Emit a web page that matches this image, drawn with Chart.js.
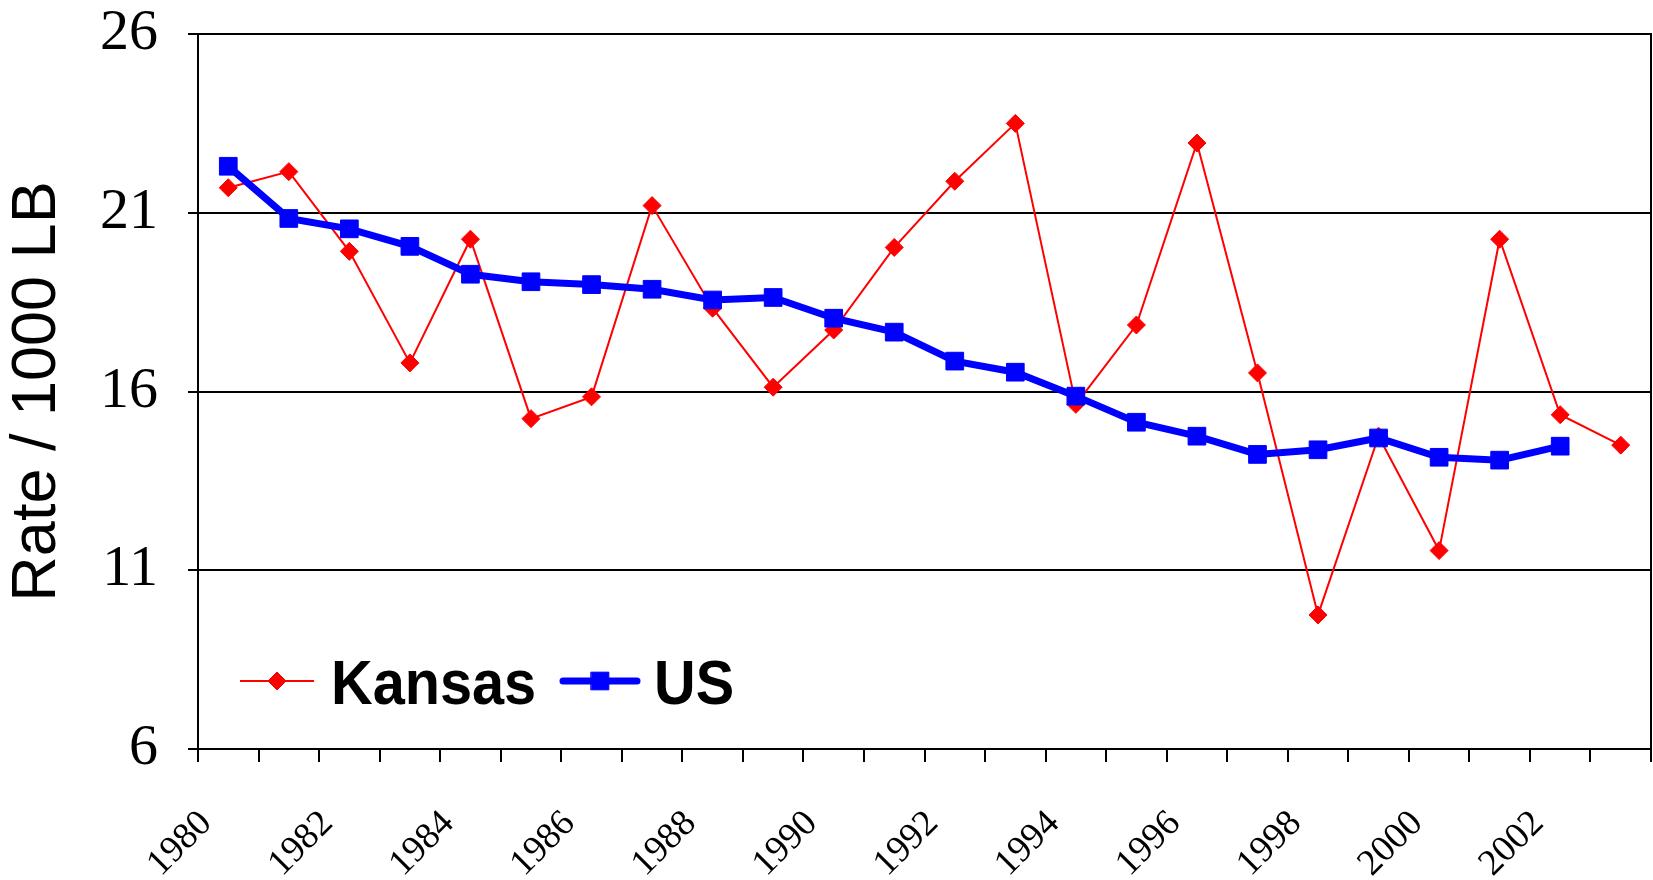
<!DOCTYPE html>
<html>
<head>
<meta charset="utf-8">
<script src="https://cdn.jsdelivr.net/npm/chart.js@4.4.1/dist/chart.umd.min.js"></script>
<style>
  html, body { margin: 0; padding: 0; background: #fff; }
  #wrap { width: 1653px; height: 880px; }
</style>
</head>
<body>
<div id="wrap"><canvas id="chart"></canvas></div>
<script>
const years = ['1980', '1981', '1982', '1983', '1984', '1985', '1986', '1987', '1988', '1989', '1990', '1991',
               '1992', '1993', '1994', '1995', '1996', '1997', '1998', '1999', '2000', '2001', '2002', '2003'];
const kansas = [21.7, 22.15, 19.92, 16.8, 20.26, 15.24, 15.85, 21.2, 18.33, 16.12, 17.72, 20.03,
                21.88, 23.5, 15.64, 17.86, 22.95, 16.52, 9.75, 14.75, 11.55, 20.26, 15.35, 14.5];
const us = [22.3, 20.84, 20.55, 20.06, 19.28, 19.07, 18.99, 18.86, 18.56, 18.63, 18.05, 17.66,
            16.85, 16.54, 15.87, 15.14, 14.75, 14.24, 14.37, 14.7, 14.16, 14.08, 14.47, null];
const yTicks = [6, 11, 16, 21, 26];

// draws the box round the plot area
const framePlugin = {
    id: 'framePlugin',
    afterDraw(chart) {
        const {ctx, chartArea: a} = chart;
        ctx.save();
        ctx.strokeStyle = '#000';
        ctx.lineWidth = 2;
        ctx.strokeRect(a.left, a.top, a.right - a.left, a.bottom - a.top);
        ctx.restore();
    }
};

// legend inside the plot, bottom left, like the original
const insideLegend = {
    id: 'insideLegend',
    afterDatasetsDraw(chart) {
        const {ctx, chartArea: a} = chart;
        const y = a.bottom - 68;
        const items = [
            {ds: chart.data.datasets[1], x0: a.left + 42, x1: a.left + 116, tx: a.left + 133},
            {ds: chart.data.datasets[0], x0: a.left + 365, x1: a.left + 439, tx: a.left + 456}
        ];
        ctx.save();
        items.forEach(it => {
            const ds = it.ds;
            ctx.strokeStyle = ds.borderColor;
            ctx.lineWidth = ds.borderWidth;
            ctx.lineCap = ds.borderWidth > 3 ? 'round' : 'butt';
            ctx.beginPath();
            ctx.moveTo(it.x0, y);
            ctx.lineTo(it.x1, y);
            ctx.stroke();
            ctx.fillStyle = ds.pointBackgroundColor;
            ctx.strokeStyle = ds.pointBorderColor;
            ctx.lineWidth = 1;
            Chart.helpers.drawPoint(ctx, {pointStyle: ds.pointStyle, radius: ds.pointRadius, rotation: 0, borderWidth: 1},
                (it.x0 + it.x1) / 2, y);
            ctx.save();
            ctx.translate(it.tx, y + 23);
            ctx.scale(0.915, 1);
            ctx.fillStyle = '#000';
            ctx.font = 'bold 63px "Liberation Sans", Arial, sans-serif';
            ctx.textAlign = 'left';
            ctx.textBaseline = 'alphabetic';
            ctx.fillText(ds.label, 0, 0);
            ctx.restore();
        });
        ctx.restore();
    }
};

new Chart(document.getElementById('chart'), {
    type: 'line',
    data: {
        labels: years,
        datasets: [{
            label: 'US',
            data: us,
            borderColor: '#0000ff',
            borderWidth: 7,
            pointStyle: 'rect',
            pointRadius: 12.5,
            pointBackgroundColor: '#0000ff',
            pointBorderColor: '#0000ff',
            pointBorderWidth: 1,
            tension: 0
        }, {
            label: 'Kansas',
            data: kansas,
            borderColor: '#ff0000',
            borderWidth: 2,
            pointStyle: 'rectRot',
            pointRadius: 9,
            pointBackgroundColor: '#ff0000',
            pointBorderColor: '#ff0000',
            pointBorderWidth: 1,
            tension: 0
        }]
    },
    options: {
        responsive: true,
        maintainAspectRatio: false,
        animation: false,
        layout: {autoPadding: false, padding: {top: 34, right: 2, left: 0, bottom: 0}},
        plugins: {legend: {display: false}, tooltip: {enabled: false}},
        scales: {
            x: {
                offset: true,
                grid: {offset: true, drawOnChartArea: false, drawTicks: true, tickLength: 13, color: '#000', lineWidth: 2},
                border: {color: '#000', width: 2},
                ticks: {
                    autoSkip: false,
                    maxRotation: 45,
                    minRotation: 45,
                    padding: 40,
                    labelOffset: -22,
                    color: '#000',
                    font: {family: '"Liberation Serif", "Times New Roman", serif', size: 37},
                    callback: (v, i) => i % 2 === 0 ? years[i] : ''
                },
                afterFit: s => {
                    s.height = 131;
                    s.paddingLeft = 0;
                    s.paddingRight = 0;
                }
            },
            y: {
                min: 6,
                max: 26,
                afterBuildTicks: s => { s.ticks = yTicks.map(v => ({value: v})); },
                grid: {color: '#000', lineWidth: 2, tickLength: 10},
                border: {color: '#000', width: 2},
                ticks: {
                    padding: 30,
                    color: '#000',
                    font: {family: '"Liberation Serif", "Times New Roman", serif', size: 58}
                },
                title: {
                    display: true,
                    text: 'Rate / 1000 LB',
                    color: '#000',
                    padding: 0,
                    font: {family: '"Liberation Sans", Arial, sans-serif', size: 63}
                },
                afterFit: s => {
                    s.width = 198;
                    s.paddingTop = 0;
                    s.paddingBottom = 0;
                }
            }
        }
    },
    plugins: [framePlugin, insideLegend]
});
</script>
</body>
</html>
